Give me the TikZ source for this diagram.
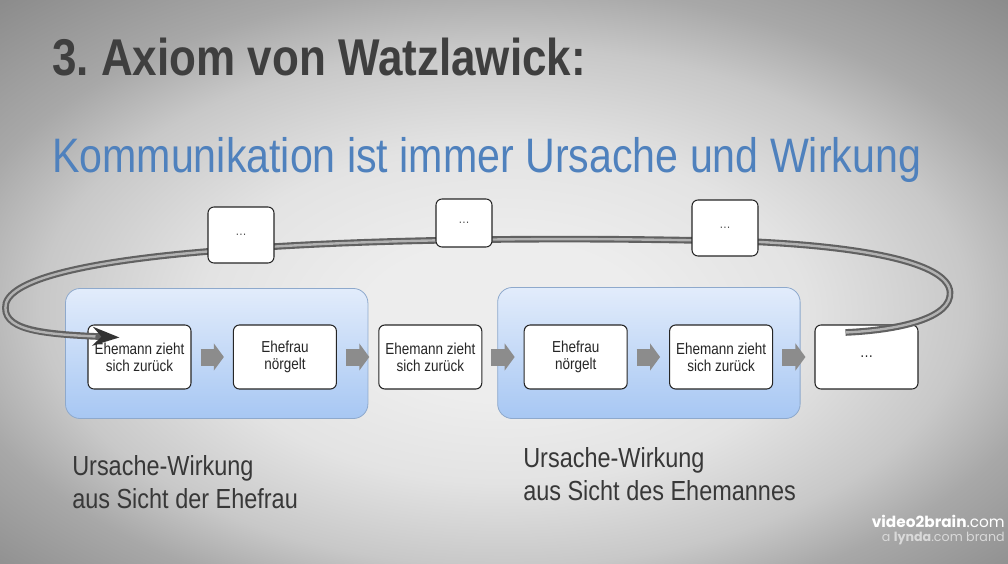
\documentclass[tikz,border=0pt]{standalone}
\usepackage{fontspec}
\setmainfont{Liberation Sans}[FakeStretch=0.85]
\newfontfamily\wmfont{Poppins}
\usetikzlibrary{arrows.meta, positioning, calc}
\frenchspacing

\definecolor{titlegray}{HTML}{3F3F3F}
\definecolor{subblue}{HTML}{4F81BD}
\definecolor{grouptop}{HTML}{E2ECFB}
\definecolor{groupbot}{HTML}{A7C7F3}
\definecolor{groupline}{HTML}{8EA9CC}
\definecolor{bgA}{HTML}{EDEDED}
\definecolor{bgB}{HTML}{E3E3E3}
\definecolor{bgC}{HTML}{C8C8C8}
\definecolor{bgD}{HTML}{A8A8A8}
\definecolor{bgE}{HTML}{8C8C8C}

\pgfdeclareradialshading{slidebg}{\pgfpoint{0bp}{-4bp}}{color(0bp)=(bgA); color(7bp)=(bgA); color(15bp)=(bgB); color(23bp)=(bgC); color(28bp)=(bgD); color(36bp)=(bgE); color(50bp)=(bgE)}
\pgfdeclarelayer{back}
\pgfdeclarelayer{mid}
\pgfsetlayers{back,mid,main}

\begin{document}
\begin{tikzpicture}[x=0.75pt, y=-0.75pt,
  box/.style={rectangle, rounded corners=4.5pt, draw=black!85, line width=0.8pt, fill=white,
              minimum width=77.25pt, minimum height=48pt, align=center, inner sep=2pt,
              font=\fontsize{11.9}{12.8}\selectfont, text=black!85},
  dotbox/.style={rectangle, rounded corners=4.5pt, draw=black!85, line width=0.8pt, fill=white,
                 font=\fontsize{10}{12}\selectfont, text=black!70},
  group/.style={rounded corners=11pt, draw=groupline, line width=0.6pt,
                top color=grouptop, bottom color=groupbot},
  flow/.style={draw=black!45, line width=12.75pt, shorten <=6.75pt, shorten >=6.75pt,
               -{Triangle[length=7.5pt, width=20pt]}},
  brush/.style={draw=black!62, line width=5pt, -{Stealth[length=20pt, width=14pt, color=black!80]},
                postaction={draw=black!30, line width=1.8pt, -, shorten >=18pt}},
  caption/.style={align=left, inner sep=0pt, font=\fontsize{20.7}{24.75}\selectfont, text=black!78}]
  \begin{pgfonlayer}{back}
    \shade[shading=slidebg] (0,0) rectangle (1008,564);
  \end{pgfonlayer}
  \useasboundingbox (0,0) rectangle (1008,564);

  \node[anchor=base west, inner sep=0pt, text=titlegray,
        font=\bfseries\fontsize{38.8}{40}\selectfont] (title) at (52,75) {3. Axiom von Watzlawick:};
  \node[anchor=base west, inner sep=0pt, text=subblue,
        font=\fontsize{36.3}{38}\selectfont] (subtitle) at (52,172) {Kommunikation ist immer Ursache und Wirkung};

  % chain of reactions
  \node[box] (a1) at (139.5,357) {Ehemann zieht\\sich zurück};
  \node[box, right=31pt of a1] (a2) {Ehefrau\\nörgelt};
  \node[box, right=31pt of a2] (a3) {Ehemann zieht\\sich zurück};
  \node[box, right=31pt of a3] (a4) {Ehefrau\\nörgelt};
  \node[box, right=31pt of a4] (a5) {Ehemann zieht\\sich zurück};
  \node[box, right=31pt of a5] (a6) {…};
  \draw[flow] (a1) -- (a2);
  \draw[flow] (a2) -- (a3);
  \draw[flow] (a3) -- (a4);
  \draw[flow] (a4) -- (a5);
  \draw[flow] (a5) -- (a6);

  \begin{pgfonlayer}{mid}
    \path[group] ($(a1.north west)+(-22,-36)$) rectangle ($(a2.south east)+(31,29)$);
    \path[group] ($(a4.north west)+(-26,-37)$) rectangle ($(a5.south east)+(27,29)$);
  \end{pgfonlayer}

  % loop back
  \draw[brush] ($(a6.north)+(-21,8)$) .. controls (900,330) and (952,318) .. (950,292)
    .. controls (948,262) and (860,247) .. (760,242)
    .. controls (600,237) and (380,238) .. (240,249)
    .. controls (110,258) and (15,275) .. (6,303)
    .. controls (0,330) and (40,334) .. ($(a1.north west)+(32,13)$);

  \node[dotbox, minimum width=49.5pt, minimum height=42pt] (t1) at (241,235) {…};
  \node[dotbox, minimum width=42pt, minimum height=36pt] (t2) at (464,223) {…};
  \node[dotbox, minimum width=49.5pt, minimum height=42pt] (t3) at (725,228) {…};

  \node[caption, anchor=north west] (cap1) at (72,455) {Ursache-Wirkung\\aus Sicht der Ehefrau};
  \node[caption, anchor=north west] (cap2) at (523,447) {Ursache-Wirkung\\aus Sicht des Ehemannes};

  \node[anchor=base east, inner sep=0pt, text=white,
        font=\wmfont\fontsize{11.5}{12}\selectfont] (logo) at (1005,527) {\textbf{video2brain}.com};
  \node[anchor=base east, inner sep=0pt, text=white!85!black,
        font=\wmfont\fontsize{9.5}{10}\selectfont] (brand) at (1005,541) {a \textbf{lynda}.com brand};
\end{tikzpicture}
\end{document}
